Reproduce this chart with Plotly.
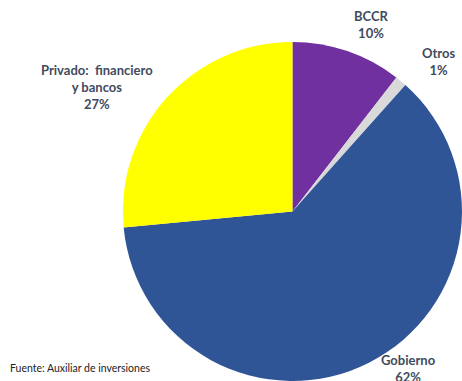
import plotly.graph_objects as go

labels = ["BCCR", "Otros", "Gobierno", "Privado:  financiero y bancos"]
values = [10.5, 1.1, 61.9, 26.5]
label_texts = ["BCCR<br>10%", "Otros<br>1%", "Gobierno<br>62%", "Privado:  financiero<br>y bancos<br>27%"]
colors = ["#7030A0", "#D9D9D9", "#2F5597", "#FFFF00"]
source = "Fuente: Auxiliar de inversiones"

fig = go.Figure(go.Pie(
    labels=labels, values=values, sort=False, direction="clockwise", rotation=0,
    marker=dict(colors=colors, line=dict(width=0)),
    textinfo="none", hoverinfo="label+percent",
    domain=dict(x=[0.266, 1.0], y=[0.0, 0.89]),
    showlegend=False,
))

txt_font = dict(family="Lato", size=13, color="#3F4B5E")
pos = [(371, 25), (438, 61), (408, 368), (97, 87)]
for t, (x, y) in zip(label_texts, pos):
    fig.add_annotation(text="<b>" + t.replace("<br>", "</b><br><b>") + "</b>",
                       x=x / 462, y=1 - y / 381, xref="paper", yref="paper",
                       showarrow=False, font=txt_font, align="center",
                       xanchor="center", yanchor="middle")

fig.add_annotation(text=source, x=8 / 462, y=1 - 368 / 381, xref="paper", yref="paper",
                   showarrow=False, xanchor="left", yanchor="middle",
                   font=dict(family="Lato", size=10.5, color="#222222"))

fig.update_layout(width=462, height=381, margin=dict(l=0, r=0, t=0, b=0),
                  paper_bgcolor="white", plot_bgcolor="white")
fig.write_html("out.html")
